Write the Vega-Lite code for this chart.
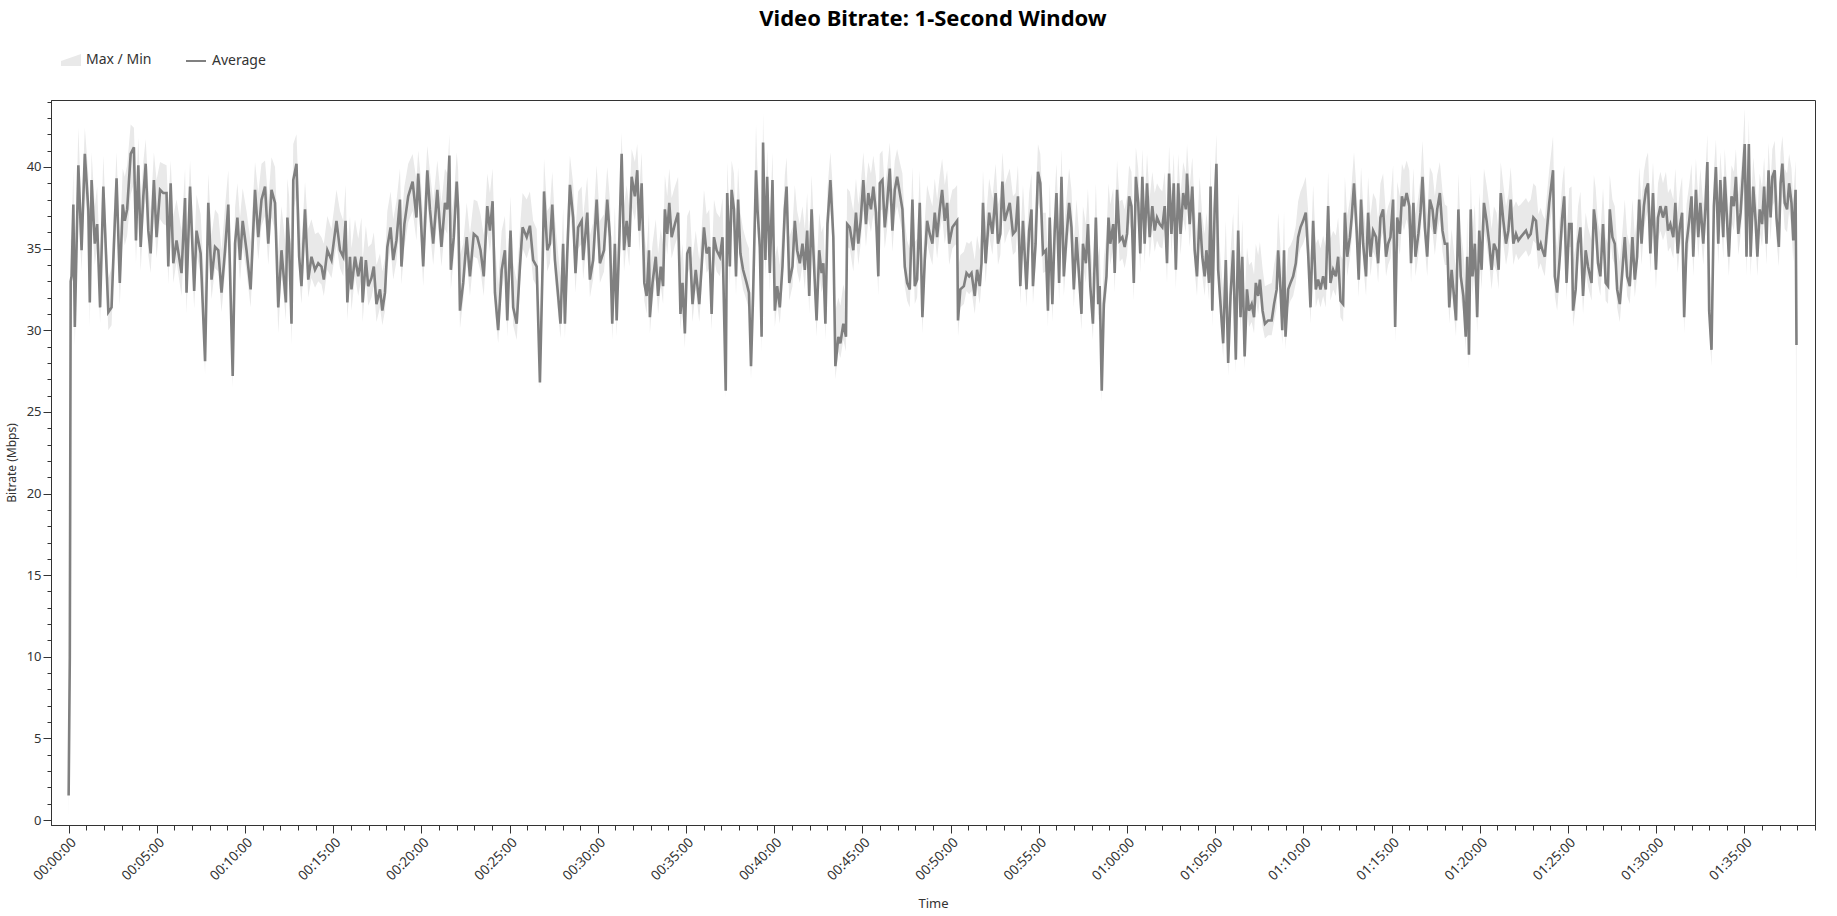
{
  "$schema": "https://vega.github.io/schema/vega-lite/v6.json",
  "width": 1764,
  "height": 725,
  "autosize": {"type": "none"},
  "padding": {"left": 51, "top": 100, "right": 22, "bottom": 91},
  "background": "white",
  "title": {"text": "Video Bitrate: 1-Second Window", "font": "Noto Sans", "fontSize": 22, "fontWeight": "bold", "color": "#000000", "anchor": "middle", "frame": "group", "offset": 19},
  "config": {"view": {"stroke": "#333333", "strokeWidth": 1}, "font": "Noto Sans"},
  "resolve": {"scale": {"color": "independent"}, "legend": {"color": "independent"}},
  "data": {"values": [
{"t":0,"avg":1.5,"max":3.0,"min":0.0},
{"t":4,"avg":10.0,"max":14.5,"min":8.0},
{"t":7,"avg":33.0,"max":35.5,"min":26.0},
{"t":10,"avg":33.3,"max":35.9,"min":31.6},
{"t":16,"avg":37.7,"max":39.8,"min":35.0},
{"t":21,"avg":30.2,"max":33.5,"min":29.0},
{"t":33,"avg":40.1,"max":42.4,"min":37.5},
{"t":44,"avg":34.9,"max":37.2,"min":33.6},
{"t":55,"avg":40.8,"max":42.4,"min":38.6},
{"t":67,"avg":37.4,"max":39.6,"min":35.9},
{"t":72,"avg":31.7,"max":34.2,"min":30.2},
{"t":78,"avg":39.2,"max":40.9,"min":37.0},
{"t":89,"avg":35.3,"max":37.6,"min":34.0},
{"t":97,"avg":36.5,"max":38.8,"min":35.1},
{"t":107,"avg":31.4,"max":33.9,"min":30.4},
{"t":118,"avg":38.8,"max":40.7,"min":36.9},
{"t":135,"avg":31.1,"max":33.2,"min":30.0},
{"t":146,"avg":31.4,"max":33.8,"min":30.3},
{"t":152,"avg":34.3,"max":36.6,"min":33.0},
{"t":163,"avg":39.3,"max":40.9,"min":37.2},
{"t":174,"avg":32.9,"max":35.2,"min":31.5},
{"t":184,"avg":37.7,"max":39.9,"min":36.0},
{"t":191,"avg":36.7,"max":39.4,"min":35.2},
{"t":199,"avg":37.4,"max":40.1,"min":35.8},
{"t":211,"avg":40.8,"max":42.6,"min":38.3},
{"t":222,"avg":41.2,"max":42.4,"min":39.0},
{"t":229,"avg":35.5,"max":38.4,"min":34.1},
{"t":237,"avg":40.1,"max":41.8,"min":38.0},
{"t":245,"avg":35.1,"max":37.9,"min":33.6},
{"t":254,"avg":38.2,"max":40.3,"min":36.6},
{"t":262,"avg":40.2,"max":41.7,"min":38.1},
{"t":271,"avg":36.1,"max":38.8,"min":34.6},
{"t":279,"avg":34.7,"max":37.3,"min":33.5},
{"t":290,"avg":39.2,"max":40.9,"min":37.3},
{"t":299,"avg":35.7,"max":39.2,"min":34.4},
{"t":311,"avg":38.6,"max":40.3,"min":36.8},
{"t":322,"avg":38.4,"max":40.2,"min":36.5},
{"t":333,"avg":38.4,"max":40.1,"min":36.4},
{"t":339,"avg":33.9,"max":37.5,"min":32.8},
{"t":347,"avg":39.0,"max":40.4,"min":36.9},
{"t":356,"avg":34.1,"max":37.0,"min":32.9},
{"t":367,"avg":35.5,"max":38.0,"min":34.2},
{"t":384,"avg":33.5,"max":36.1,"min":32.1},
{"t":396,"avg":38.1,"max":39.9,"min":36.2},
{"t":401,"avg":32.3,"max":35.2,"min":31.0},
{"t":413,"avg":38.8,"max":40.4,"min":36.7},
{"t":427,"avg":32.4,"max":35.0,"min":31.3},
{"t":435,"avg":36.1,"max":38.3,"min":34.7},
{"t":449,"avg":34.7,"max":37.1,"min":33.4},
{"t":464,"avg":28.1,"max":31.9,"min":27.3},
{"t":475,"avg":37.8,"max":39.6,"min":35.8},
{"t":486,"avg":33.1,"max":35.8,"min":31.9},
{"t":498,"avg":35.1,"max":37.4,"min":33.8},
{"t":509,"avg":34.9,"max":37.1,"min":33.6},
{"t":520,"avg":32.3,"max":34.9,"min":31.1},
{"t":532,"avg":34.9,"max":37.6,"min":33.5},
{"t":543,"avg":37.7,"max":39.8,"min":35.9},
{"t":558,"avg":27.2,"max":31.0,"min":26.5},
{"t":566,"avg":35.3,"max":37.5,"min":33.7},
{"t":574,"avg":36.9,"max":39.0,"min":35.2},
{"t":583,"avg":34.3,"max":36.9,"min":33.0},
{"t":592,"avg":36.7,"max":38.7,"min":35.1},
{"t":605,"avg":34.9,"max":37.3,"min":33.6},
{"t":619,"avg":32.5,"max":35.4,"min":31.4},
{"t":634,"avg":38.6,"max":40.3,"min":36.8},
{"t":645,"avg":35.7,"max":38.4,"min":34.3},
{"t":656,"avg":38.0,"max":40.2,"min":36.4},
{"t":668,"avg":38.8,"max":40.4,"min":37.0},
{"t":679,"avg":35.3,"max":37.9,"min":34.0},
{"t":690,"avg":38.6,"max":40.6,"min":36.9},
{"t":702,"avg":37.8,"max":40.0,"min":36.1},
{"t":713,"avg":31.4,"max":34.8,"min":29.8},
{"t":724,"avg":34.9,"max":37.6,"min":33.5},
{"t":739,"avg":31.7,"max":35.0,"min":30.6},
{"t":744,"avg":36.9,"max":39.3,"min":35.3},
{"t":750,"avg":35.3,"max":38.2,"min":34.0},
{"t":758,"avg":30.4,"max":33.8,"min":29.1},
{"t":764,"avg":39.2,"max":41.4,"min":37.3},
{"t":775,"avg":40.2,"max":42.0,"min":38.2},
{"t":784,"avg":34.5,"max":37.6,"min":33.3},
{"t":792,"avg":32.7,"max":35.3,"min":31.6},
{"t":804,"avg":37.4,"max":39.1,"min":35.7},
{"t":815,"avg":33.1,"max":36.2,"min":32.0},
{"t":826,"avg":34.5,"max":36.8,"min":33.2},
{"t":838,"avg":33.7,"max":35.9,"min":32.6},
{"t":849,"avg":34.1,"max":36.0,"min":33.0},
{"t":860,"avg":33.9,"max":35.7,"min":32.8},
{"t":868,"avg":33.1,"max":35.3,"min":32.1},
{"t":880,"avg":34.9,"max":37.0,"min":33.7},
{"t":894,"avg":34.3,"max":36.2,"min":33.2},
{"t":911,"avg":36.7,"max":38.6,"min":35.2},
{"t":923,"avg":34.9,"max":37.3,"min":33.8},
{"t":934,"avg":34.5,"max":36.7,"min":33.3},
{"t":942,"avg":36.7,"max":38.9,"min":35.3},
{"t":948,"avg":31.7,"max":34.8,"min":30.6},
{"t":957,"avg":34.5,"max":37.0,"min":33.2},
{"t":962,"avg":32.5,"max":35.0,"min":31.2},
{"t":974,"avg":34.5,"max":36.8,"min":33.3},
{"t":985,"avg":33.3,"max":35.6,"min":32.1},
{"t":996,"avg":34.5,"max":36.9,"min":33.2},
{"t":1000,"avg":31.7,"max":34.3,"min":30.5},
{"t":1011,"avg":34.3,"max":36.4,"min":33.1},
{"t":1019,"avg":32.7,"max":35.1,"min":31.5},
{"t":1030,"avg":33.2,"max":35.3,"min":32.0},
{"t":1038,"avg":33.9,"max":36.0,"min":32.7},
{"t":1047,"avg":31.6,"max":34.0,"min":30.5},
{"t":1059,"avg":32.5,"max":34.7,"min":31.4},
{"t":1067,"avg":31.2,"max":33.6,"min":30.3},
{"t":1076,"avg":32.3,"max":34.4,"min":31.2},
{"t":1084,"avg":35.1,"max":37.3,"min":33.8},
{"t":1095,"avg":36.3,"max":38.5,"min":35.0},
{"t":1104,"avg":34.3,"max":36.8,"min":33.1},
{"t":1115,"avg":35.5,"max":37.9,"min":34.2},
{"t":1127,"avg":38.0,"max":39.9,"min":36.4},
{"t":1132,"avg":33.9,"max":36.7,"min":32.8},
{"t":1142,"avg":36.5,"max":38.8,"min":35.1},
{"t":1155,"avg":38.2,"max":40.2,"min":36.6},
{"t":1170,"avg":39.1,"max":40.8,"min":37.3},
{"t":1183,"avg":36.9,"max":39.2,"min":35.5},
{"t":1189,"avg":39.6,"max":41.0,"min":37.8},
{"t":1197,"avg":37.2,"max":39.5,"min":35.8},
{"t":1206,"avg":33.9,"max":36.9,"min":32.7},
{"t":1220,"avg":39.8,"max":41.3,"min":37.9},
{"t":1229,"avg":37.4,"max":39.7,"min":36.0},
{"t":1240,"avg":35.3,"max":37.9,"min":34.0},
{"t":1254,"avg":38.6,"max":40.4,"min":36.9},
{"t":1268,"avg":35.1,"max":37.8,"min":33.9},
{"t":1280,"avg":37.8,"max":39.9,"min":36.2},
{"t":1288,"avg":37.4,"max":39.6,"min":35.9},
{"t":1295,"avg":40.7,"max":42.0,"min":38.6},
{"t":1300,"avg":33.7,"max":36.9,"min":32.5},
{"t":1310,"avg":35.7,"max":38.1,"min":34.4},
{"t":1320,"avg":39.1,"max":40.9,"min":37.3},
{"t":1325,"avg":37.4,"max":39.8,"min":35.8},
{"t":1331,"avg":31.2,"max":34.6,"min":30.1},
{"t":1342,"avg":32.9,"max":35.3,"min":31.8},
{"t":1354,"avg":35.7,"max":37.8,"min":34.3},
{"t":1365,"avg":33.3,"max":35.9,"min":32.1},
{"t":1378,"avg":35.9,"max":38.0,"min":34.5},
{"t":1390,"avg":35.7,"max":37.9,"min":34.4},
{"t":1401,"avg":34.9,"max":37.1,"min":33.6},
{"t":1412,"avg":33.3,"max":35.8,"min":32.1},
{"t":1424,"avg":37.6,"max":39.6,"min":36.0},
{"t":1433,"avg":36.1,"max":38.4,"min":34.8},
{"t":1442,"avg":37.9,"max":39.9,"min":36.3},
{"t":1450,"avg":32.3,"max":35.2,"min":31.2},
{"t":1461,"avg":30.0,"max":32.8,"min":29.2},
{"t":1473,"avg":33.7,"max":36.1,"min":32.4},
{"t":1484,"avg":34.9,"max":37.0,"min":33.6},
{"t":1492,"avg":30.6,"max":33.5,"min":29.6},
{"t":1503,"avg":36.1,"max":38.2,"min":34.7},
{"t":1512,"avg":31.4,"max":34.1,"min":30.3},
{"t":1524,"avg":30.4,"max":33.0,"min":29.4},
{"t":1535,"avg":33.9,"max":36.2,"min":32.7},
{"t":1544,"avg":36.3,"max":38.4,"min":35.0},
{"t":1558,"avg":35.7,"max":38.0,"min":34.4},
{"t":1569,"avg":36.4,"max":38.5,"min":35.1},
{"t":1580,"avg":34.3,"max":36.7,"min":33.1},
{"t":1592,"avg":33.9,"max":36.2,"min":32.7},
{"t":1603,"avg":26.8,"max":30.5,"min":26.4},
{"t":1612,"avg":33.9,"max":36.4,"min":32.7},
{"t":1617,"avg":38.5,"max":40.5,"min":36.8},
{"t":1628,"avg":34.9,"max":37.3,"min":33.6},
{"t":1637,"avg":35.3,"max":37.6,"min":34.1},
{"t":1645,"avg":37.7,"max":39.7,"min":36.1},
{"t":1654,"avg":34.3,"max":36.8,"min":33.1},
{"t":1665,"avg":32.1,"max":34.7,"min":31.0},
{"t":1673,"avg":30.4,"max":33.2,"min":29.5},
{"t":1682,"avg":35.3,"max":37.5,"min":34.0},
{"t":1688,"avg":30.4,"max":33.4,"min":29.5},
{"t":1696,"avg":34.7,"max":37.0,"min":33.4},
{"t":1705,"avg":38.9,"max":40.7,"min":37.2},
{"t":1716,"avg":36.9,"max":39.0,"min":35.5},
{"t":1724,"avg":33.5,"max":36.1,"min":32.3},
{"t":1733,"avg":36.3,"max":38.5,"min":35.0},
{"t":1745,"avg":36.7,"max":38.8,"min":35.3},
{"t":1750,"avg":34.3,"max":36.9,"min":33.1},
{"t":1764,"avg":37.2,"max":39.4,"min":35.8},
{"t":1773,"avg":33.1,"max":35.8,"min":32.0},
{"t":1784,"avg":34.3,"max":36.6,"min":33.1},
{"t":1796,"avg":38.0,"max":40.1,"min":36.4},
{"t":1807,"avg":34.1,"max":36.7,"min":32.9},
{"t":1821,"avg":34.9,"max":37.1,"min":33.6},
{"t":1832,"avg":38.0,"max":40.0,"min":36.4},
{"t":1841,"avg":35.7,"max":38.0,"min":34.4},
{"t":1849,"avg":30.4,"max":33.6,"min":29.4},
{"t":1858,"avg":35.3,"max":37.6,"min":34.0},
{"t":1864,"avg":30.6,"max":33.7,"min":29.6},
{"t":1873,"avg":35.5,"max":37.8,"min":34.2},
{"t":1881,"avg":40.8,"max":42.1,"min":38.7},
{"t":1889,"avg":34.9,"max":37.6,"min":33.6},
{"t":1898,"avg":36.7,"max":38.9,"min":35.3},
{"t":1907,"avg":35.1,"max":37.5,"min":33.9},
{"t":1915,"avg":39.4,"max":41.1,"min":37.6},
{"t":1926,"avg":38.2,"max":40.3,"min":36.7},
{"t":1934,"avg":39.8,"max":41.4,"min":37.9},
{"t":1941,"avg":36.1,"max":38.6,"min":34.8},
{"t":1949,"avg":39.0,"max":40.9,"min":37.3},
{"t":1958,"avg":32.9,"max":35.9,"min":31.8},
{"t":1966,"avg":32.1,"max":34.8,"min":31.0},
{"t":1974,"avg":34.9,"max":37.2,"min":33.6},
{"t":1977,"avg":30.8,"max":33.6,"min":29.8},
{"t":1986,"avg":32.9,"max":35.3,"min":31.7},
{"t":1997,"avg":34.5,"max":36.8,"min":33.2},
{"t":2005,"avg":32.1,"max":34.7,"min":31.0},
{"t":2014,"avg":33.9,"max":36.2,"min":32.7},
{"t":2022,"avg":32.7,"max":35.2,"min":31.6},
{"t":2028,"avg":37.4,"max":39.5,"min":35.9},
{"t":2036,"avg":35.9,"max":38.2,"min":34.6},
{"t":2043,"avg":37.8,"max":39.9,"min":36.2},
{"t":2051,"avg":35.7,"max":38.1,"min":34.4},
{"t":2062,"avg":36.5,"max":38.8,"min":35.2},
{"t":2073,"avg":37.2,"max":39.4,"min":35.8},
{"t":2081,"avg":31.0,"max":34.0,"min":30.0},
{"t":2088,"avg":32.9,"max":35.3,"min":31.7},
{"t":2096,"avg":29.8,"max":32.7,"min":28.9},
{"t":2104,"avg":34.7,"max":37.0,"min":33.4},
{"t":2113,"avg":35.1,"max":37.4,"min":33.8},
{"t":2122,"avg":31.6,"max":34.4,"min":30.5},
{"t":2133,"avg":33.7,"max":36.1,"min":32.5},
{"t":2145,"avg":31.6,"max":34.3,"min":30.5},
{"t":2153,"avg":33.9,"max":36.2,"min":32.7},
{"t":2161,"avg":36.3,"max":38.6,"min":35.0},
{"t":2170,"avg":34.7,"max":37.1,"min":33.5},
{"t":2179,"avg":35.1,"max":37.4,"min":33.8},
{"t":2187,"avg":31.0,"max":33.9,"min":30.0},
{"t":2195,"avg":35.7,"max":38.0,"min":34.4},
{"t":2204,"avg":34.9,"max":37.2,"min":33.6},
{"t":2215,"avg":34.5,"max":36.9,"min":33.3},
{"t":2224,"avg":35.7,"max":38.1,"min":34.4},
{"t":2235,"avg":26.3,"max":30.2,"min":25.8},
{"t":2240,"avg":38.4,"max":40.3,"min":36.8},
{"t":2249,"avg":33.9,"max":36.5,"min":32.7},
{"t":2255,"avg":38.6,"max":40.4,"min":36.9},
{"t":2263,"avg":37.4,"max":39.6,"min":36.0},
{"t":2270,"avg":33.3,"max":36.1,"min":32.1},
{"t":2277,"avg":38.0,"max":40.0,"min":36.4},
{"t":2285,"avg":34.7,"max":37.2,"min":33.5},
{"t":2294,"avg":33.7,"max":36.2,"min":32.5},
{"t":2306,"avg":32.9,"max":35.4,"min":31.8},
{"t":2314,"avg":32.3,"max":35.0,"min":31.2},
{"t":2321,"avg":27.8,"max":31.2,"min":27.0},
{"t":2328,"avg":32.1,"max":34.8,"min":31.0},
{"t":2338,"avg":39.8,"max":42.6,"min":37.9},
{"t":2343,"avg":37.4,"max":39.8,"min":36.0},
{"t":2351,"avg":35.1,"max":37.6,"min":33.9},
{"t":2357,"avg":29.6,"max":33.0,"min":28.6},
{"t":2362,"avg":41.5,"max":43.3,"min":39.4},
{"t":2370,"avg":34.3,"max":37.2,"min":33.1},
{"t":2376,"avg":39.4,"max":41.1,"min":37.6},
{"t":2385,"avg":33.5,"max":36.2,"min":32.3},
{"t":2394,"avg":39.2,"max":40.9,"min":37.4},
{"t":2402,"avg":31.2,"max":34.3,"min":30.2},
{"t":2410,"avg":32.7,"max":35.2,"min":31.6},
{"t":2419,"avg":31.4,"max":34.0,"min":30.4},
{"t":2428,"avg":33.9,"max":36.3,"min":32.7},
{"t":2436,"avg":37.4,"max":39.5,"min":35.9},
{"t":2442,"avg":38.8,"max":40.6,"min":37.1},
{"t":2451,"avg":32.9,"max":35.7,"min":31.8},
{"t":2462,"avg":33.9,"max":36.3,"min":32.7},
{"t":2470,"avg":36.7,"max":38.9,"min":35.3},
{"t":2478,"avg":34.9,"max":37.3,"min":33.6},
{"t":2487,"avg":34.1,"max":36.5,"min":32.9},
{"t":2496,"avg":35.3,"max":37.6,"min":34.0},
{"t":2504,"avg":33.7,"max":36.2,"min":32.5},
{"t":2512,"avg":36.1,"max":38.4,"min":34.8},
{"t":2519,"avg":32.1,"max":34.9,"min":31.0},
{"t":2527,"avg":37.4,"max":39.5,"min":35.9},
{"t":2535,"avg":34.1,"max":36.6,"min":32.9},
{"t":2544,"avg":30.6,"max":33.6,"min":29.6},
{"t":2553,"avg":34.9,"max":37.2,"min":33.6},
{"t":2561,"avg":33.5,"max":36.0,"min":32.3},
{"t":2567,"avg":34.1,"max":36.4,"min":32.9},
{"t":2574,"avg":30.4,"max":33.5,"min":29.4},
{"t":2581,"avg":36.5,"max":38.7,"min":35.1},
{"t":2591,"avg":39.2,"max":40.9,"min":37.4},
{"t":2601,"avg":35.7,"max":38.3,"min":34.4},
{"t":2608,"avg":27.8,"max":31.2,"min":27.0},
{"t":2618,"avg":29.6,"max":32.0,"min":28.7},
{"t":2625,"avg":29.2,"max":31.5,"min":28.3},
{"t":2635,"avg":30.4,"max":32.8,"min":29.4},
{"t":2644,"avg":29.6,"max":32.1,"min":28.7},
{"t":2648,"avg":36.5,"max":38.7,"min":35.1},
{"t":2657,"avg":36.3,"max":38.5,"min":35.0},
{"t":2669,"avg":34.9,"max":37.3,"min":33.6},
{"t":2678,"avg":37.2,"max":39.3,"min":35.8},
{"t":2686,"avg":35.3,"max":37.7,"min":34.0},
{"t":2694,"avg":36.7,"max":38.9,"min":35.3},
{"t":2703,"avg":39.2,"max":40.9,"min":37.4},
{"t":2712,"avg":36.5,"max":38.8,"min":35.1},
{"t":2720,"avg":38.4,"max":40.3,"min":36.8},
{"t":2729,"avg":37.4,"max":39.6,"min":36.0},
{"t":2737,"avg":38.8,"max":40.7,"min":37.1},
{"t":2746,"avg":37.2,"max":39.4,"min":35.8},
{"t":2754,"avg":33.3,"max":36.4,"min":32.1},
{"t":2759,"avg":39.0,"max":40.8,"min":37.3},
{"t":2768,"avg":39.2,"max":41.0,"min":37.4},
{"t":2776,"avg":36.3,"max":38.7,"min":35.0},
{"t":2784,"avg":37.8,"max":39.9,"min":36.2},
{"t":2793,"avg":39.9,"max":41.5,"min":38.0},
{"t":2802,"avg":36.1,"max":38.5,"min":34.8},
{"t":2810,"avg":38.6,"max":40.4,"min":36.9},
{"t":2818,"avg":39.4,"max":41.1,"min":37.6},
{"t":2827,"avg":38.4,"max":40.3,"min":36.8},
{"t":2836,"avg":37.4,"max":39.6,"min":36.0},
{"t":2844,"avg":33.9,"max":36.7,"min":32.7},
{"t":2852,"avg":32.9,"max":35.5,"min":31.8},
{"t":2861,"avg":32.5,"max":35.0,"min":31.4},
{"t":2870,"avg":38.0,"max":40.0,"min":36.4},
{"t":2878,"avg":32.7,"max":35.4,"min":31.6},
{"t":2886,"avg":33.1,"max":35.6,"min":32.0},
{"t":2895,"avg":37.8,"max":39.8,"min":36.2},
{"t":2904,"avg":30.8,"max":33.9,"min":29.8},
{"t":2912,"avg":34.3,"max":36.7,"min":33.1},
{"t":2920,"avg":36.7,"max":38.9,"min":35.3},
{"t":2929,"avg":35.9,"max":38.2,"min":34.6},
{"t":2938,"avg":35.3,"max":37.6,"min":34.0},
{"t":2946,"avg":37.2,"max":39.3,"min":35.8},
{"t":2954,"avg":35.7,"max":38.0,"min":34.4},
{"t":2963,"avg":37.4,"max":39.5,"min":36.0},
{"t":2971,"avg":38.6,"max":40.5,"min":36.9},
{"t":2980,"avg":36.7,"max":38.9,"min":35.3},
{"t":2988,"avg":37.8,"max":39.8,"min":36.2},
{"t":2995,"avg":35.3,"max":37.7,"min":34.0},
{"t":3006,"avg":36.3,"max":38.6,"min":35.0},
{"t":3014,"avg":36.5,"max":38.7,"min":35.2},
{"t":3022,"avg":36.7,"max":38.9,"min":35.3},
{"t":3025,"avg":30.6,"max":33.8,"min":29.6},
{"t":3033,"avg":32.5,"max":34.6,"min":31.4},
{"t":3045,"avg":32.7,"max":34.8,"min":31.6},
{"t":3054,"avg":33.5,"max":35.4,"min":32.4},
{"t":3063,"avg":33.3,"max":35.3,"min":32.2},
{"t":3071,"avg":33.5,"max":35.5,"min":32.4},
{"t":3082,"avg":32.1,"max":34.3,"min":31.0},
{"t":3090,"avg":33.7,"max":35.8,"min":32.6},
{"t":3099,"avg":32.7,"max":34.9,"min":31.6},
{"t":3105,"avg":34.1,"max":36.4,"min":32.9},
{"t":3110,"avg":37.8,"max":39.8,"min":36.2},
{"t":3119,"avg":34.1,"max":36.6,"min":32.9},
{"t":3131,"avg":37.2,"max":39.3,"min":35.8},
{"t":3142,"avg":35.9,"max":38.1,"min":34.6},
{"t":3153,"avg":38.4,"max":40.2,"min":36.8},
{"t":3161,"avg":35.3,"max":37.7,"min":34.0},
{"t":3169,"avg":35.9,"max":38.2,"min":34.6},
{"t":3176,"avg":39.1,"max":40.9,"min":37.3},
{"t":3184,"avg":36.7,"max":38.9,"min":35.3},
{"t":3192,"avg":37.2,"max":39.4,"min":35.8},
{"t":3201,"avg":37.8,"max":39.9,"min":36.2},
{"t":3212,"avg":35.9,"max":38.2,"min":34.6},
{"t":3221,"avg":36.1,"max":38.4,"min":34.8},
{"t":3229,"avg":38.2,"max":40.1,"min":36.6},
{"t":3237,"avg":32.7,"max":35.6,"min":31.6},
{"t":3246,"avg":36.7,"max":38.9,"min":35.3},
{"t":3258,"avg":32.5,"max":35.3,"min":31.4},
{"t":3267,"avg":36.1,"max":38.4,"min":34.8},
{"t":3275,"avg":37.4,"max":39.6,"min":36.0},
{"t":3280,"avg":32.7,"max":35.5,"min":31.6},
{"t":3289,"avg":35.3,"max":37.7,"min":34.0},
{"t":3297,"avg":39.7,"max":41.4,"min":37.8},
{"t":3305,"avg":39.0,"max":40.8,"min":37.3},
{"t":3314,"avg":34.7,"max":37.2,"min":33.5},
{"t":3324,"avg":34.9,"max":37.2,"min":33.6},
{"t":3331,"avg":31.2,"max":34.2,"min":30.2},
{"t":3337,"avg":36.9,"max":39.0,"min":35.5},
{"t":3346,"avg":31.6,"max":34.5,"min":30.5},
{"t":3354,"avg":36.1,"max":38.4,"min":34.8},
{"t":3360,"avg":38.4,"max":40.2,"min":36.8},
{"t":3369,"avg":32.9,"max":35.8,"min":31.8},
{"t":3377,"avg":39.4,"max":41.1,"min":37.6},
{"t":3385,"avg":33.3,"max":36.2,"min":32.1},
{"t":3394,"avg":35.7,"max":38.0,"min":34.4},
{"t":3403,"avg":37.8,"max":39.9,"min":36.2},
{"t":3411,"avg":36.3,"max":38.6,"min":35.0},
{"t":3419,"avg":32.5,"max":35.3,"min":31.4},
{"t":3428,"avg":35.7,"max":38.0,"min":34.4},
{"t":3437,"avg":33.3,"max":35.9,"min":32.1},
{"t":3445,"avg":31.0,"max":33.9,"min":30.0},
{"t":3450,"avg":35.3,"max":37.6,"min":34.0},
{"t":3460,"avg":34.1,"max":36.5,"min":32.9},
{"t":3467,"avg":36.5,"max":38.7,"min":35.1},
{"t":3475,"avg":32.7,"max":35.5,"min":31.6},
{"t":3484,"avg":30.4,"max":33.4,"min":29.4},
{"t":3494,"avg":36.9,"max":39.0,"min":35.5},
{"t":3502,"avg":31.6,"max":34.5,"min":30.5},
{"t":3507,"avg":32.7,"max":35.2,"min":31.6},
{"t":3514,"avg":26.3,"max":30.4,"min":25.6},
{"t":3521,"avg":31.6,"max":34.4,"min":30.5},
{"t":3530,"avg":33.3,"max":35.9,"min":32.1},
{"t":3537,"avg":36.9,"max":39.0,"min":35.5},
{"t":3543,"avg":35.3,"max":37.7,"min":34.0},
{"t":3553,"avg":36.5,"max":38.7,"min":35.1},
{"t":3558,"avg":33.5,"max":36.2,"min":32.3},
{"t":3566,"avg":38.6,"max":40.4,"min":36.9},
{"t":3575,"avg":35.5,"max":37.9,"min":34.2},
{"t":3584,"avg":35.7,"max":38.0,"min":34.4},
{"t":3592,"avg":35.1,"max":37.4,"min":33.8},
{"t":3600,"avg":35.9,"max":38.2,"min":34.6},
{"t":3607,"avg":38.2,"max":40.1,"min":36.6},
{"t":3615,"avg":37.6,"max":39.7,"min":36.1},
{"t":3623,"avg":32.9,"max":35.8,"min":31.8},
{"t":3630,"avg":39.4,"max":41.2,"min":37.6},
{"t":3638,"avg":37.8,"max":39.9,"min":36.2},
{"t":3645,"avg":34.7,"max":37.2,"min":33.5},
{"t":3652,"avg":39.4,"max":41.1,"min":37.6},
{"t":3660,"avg":35.3,"max":37.8,"min":34.0},
{"t":3668,"avg":39.0,"max":40.8,"min":37.3},
{"t":3677,"avg":35.7,"max":38.1,"min":34.4},
{"t":3686,"avg":37.6,"max":39.7,"min":36.1},
{"t":3694,"avg":36.1,"max":38.4,"min":34.8},
{"t":3702,"avg":36.9,"max":39.0,"min":35.5},
{"t":3711,"avg":36.5,"max":38.7,"min":35.1},
{"t":3720,"avg":36.3,"max":38.5,"min":35.0},
{"t":3728,"avg":37.6,"max":39.7,"min":36.1},
{"t":3736,"avg":34.1,"max":36.8,"min":32.9},
{"t":3743,"avg":39.6,"max":41.3,"min":37.8},
{"t":3751,"avg":35.9,"max":38.3,"min":34.6},
{"t":3759,"avg":39.0,"max":40.8,"min":37.3},
{"t":3766,"avg":33.7,"max":36.6,"min":32.5},
{"t":3774,"avg":39.0,"max":40.8,"min":37.3},
{"t":3782,"avg":35.9,"max":38.3,"min":34.6},
{"t":3791,"avg":38.4,"max":40.3,"min":36.8},
{"t":3800,"avg":37.4,"max":39.6,"min":36.0},
{"t":3804,"avg":39.6,"max":41.4,"min":37.8},
{"t":3813,"avg":36.5,"max":38.8,"min":35.1},
{"t":3822,"avg":38.8,"max":40.6,"min":37.1},
{"t":3830,"avg":34.9,"max":37.5,"min":33.6},
{"t":3838,"avg":33.3,"max":36.0,"min":32.1},
{"t":3847,"avg":37.2,"max":39.4,"min":35.8},
{"t":3856,"avg":34.5,"max":37.0,"min":33.3},
{"t":3864,"avg":33.3,"max":35.9,"min":32.1},
{"t":3870,"avg":34.9,"max":37.2,"min":33.6},
{"t":3879,"avg":32.9,"max":35.6,"min":31.8},
{"t":3884,"avg":38.8,"max":40.6,"min":37.1},
{"t":3890,"avg":31.2,"max":34.3,"min":30.2},
{"t":3898,"avg":37.4,"max":39.6,"min":36.0},
{"t":3904,"avg":40.2,"max":42.0,"min":38.2},
{"t":3910,"avg":33.7,"max":36.6,"min":32.5},
{"t":3918,"avg":31.6,"max":34.4,"min":30.5},
{"t":3927,"avg":29.2,"max":32.4,"min":28.3},
{"t":3936,"avg":34.3,"max":36.7,"min":33.1},
{"t":3944,"avg":28.0,"max":31.3,"min":27.2},
{"t":3952,"avg":32.1,"max":34.8,"min":31.0},
{"t":3961,"avg":34.9,"max":37.2,"min":33.6},
{"t":3970,"avg":28.2,"max":31.6,"min":27.4},
{"t":3978,"avg":36.1,"max":38.4,"min":34.8},
{"t":3986,"avg":30.8,"max":33.8,"min":29.8},
{"t":3992,"avg":34.5,"max":36.8,"min":33.3},
{"t":4000,"avg":28.4,"max":31.7,"min":27.6},
{"t":4008,"avg":32.5,"max":35.1,"min":31.4},
{"t":4015,"avg":31.2,"max":34.0,"min":30.2},
{"t":4024,"avg":31.6,"max":34.2,"min":30.5},
{"t":4032,"avg":30.8,"max":33.4,"min":29.8},
{"t":4038,"avg":32.9,"max":35.3,"min":31.8},
{"t":4046,"avg":32.1,"max":34.6,"min":31.0},
{"t":4052,"avg":33.1,"max":35.4,"min":32.0},
{"t":4061,"avg":31.2,"max":33.8,"min":30.2},
{"t":4069,"avg":30.4,"max":32.7,"min":29.5},
{"t":4080,"avg":30.6,"max":32.8,"min":29.7},
{"t":4092,"avg":30.6,"max":32.9,"min":29.7},
{"t":4100,"avg":31.6,"max":34.0,"min":30.5},
{"t":4109,"avg":32.5,"max":34.9,"min":31.4},
{"t":4114,"avg":34.9,"max":37.2,"min":33.6},
{"t":4122,"avg":32.5,"max":35.0,"min":31.4},
{"t":4128,"avg":30.0,"max":33.0,"min":29.1},
{"t":4134,"avg":34.9,"max":37.3,"min":33.6},
{"t":4139,"avg":29.6,"max":32.7,"min":28.8},
{"t":4148,"avg":32.5,"max":35.0,"min":31.4},
{"t":4156,"avg":32.9,"max":35.2,"min":31.8},
{"t":4165,"avg":33.3,"max":35.6,"min":32.1},
{"t":4174,"avg":34.1,"max":36.4,"min":32.9},
{"t":4182,"avg":35.7,"max":37.9,"min":34.4},
{"t":4190,"avg":36.3,"max":38.5,"min":35.0},
{"t":4199,"avg":36.7,"max":38.9,"min":35.3},
{"t":4208,"avg":37.2,"max":39.4,"min":35.8},
{"t":4216,"avg":34.7,"max":37.3,"min":33.5},
{"t":4224,"avg":31.4,"max":34.4,"min":30.4},
{"t":4233,"avg":36.7,"max":38.9,"min":35.3},
{"t":4242,"avg":32.5,"max":35.3,"min":31.4},
{"t":4250,"avg":33.1,"max":35.6,"min":32.0},
{"t":4258,"avg":32.5,"max":35.0,"min":31.4},
{"t":4267,"avg":33.3,"max":35.8,"min":32.1},
{"t":4276,"avg":32.5,"max":35.1,"min":31.4},
{"t":4284,"avg":37.6,"max":39.7,"min":36.1},
{"t":4292,"avg":32.9,"max":35.6,"min":31.8},
{"t":4301,"avg":33.7,"max":36.1,"min":32.5},
{"t":4310,"avg":33.3,"max":35.8,"min":32.1},
{"t":4318,"avg":34.5,"max":36.9,"min":33.3},
{"t":4326,"avg":31.8,"max":34.6,"min":30.8},
{"t":4335,"avg":31.6,"max":34.3,"min":30.5},
{"t":4341,"avg":37.2,"max":39.4,"min":35.8},
{"t":4349,"avg":34.5,"max":37.0,"min":33.3},
{"t":4358,"avg":35.7,"max":38.0,"min":34.4},
{"t":4364,"avg":36.9,"max":39.0,"min":35.5},
{"t":4372,"avg":39.0,"max":40.9,"min":37.3},
{"t":4381,"avg":36.1,"max":38.5,"min":34.8},
{"t":4388,"avg":33.1,"max":36.0,"min":32.0},
{"t":4396,"avg":38.0,"max":40.0,"min":36.4},
{"t":4403,"avg":35.3,"max":37.7,"min":34.0},
{"t":4413,"avg":33.3,"max":36.0,"min":32.1},
{"t":4420,"avg":37.2,"max":39.4,"min":35.8},
{"t":4428,"avg":34.5,"max":37.0,"min":33.3},
{"t":4437,"avg":36.1,"max":38.4,"min":34.8},
{"t":4447,"avg":35.7,"max":38.0,"min":34.4},
{"t":4454,"avg":34.1,"max":36.6,"min":32.9},
{"t":4462,"avg":36.9,"max":39.0,"min":35.5},
{"t":4471,"avg":37.4,"max":39.6,"min":36.0},
{"t":4481,"avg":34.5,"max":37.0,"min":33.3},
{"t":4488,"avg":35.3,"max":37.6,"min":34.0},
{"t":4496,"avg":35.7,"max":38.0,"min":34.4},
{"t":4505,"avg":38.0,"max":40.1,"min":36.4},
{"t":4512,"avg":30.2,"max":33.6,"min":29.3},
{"t":4519,"avg":36.9,"max":39.1,"min":35.5},
{"t":4528,"avg":35.9,"max":38.2,"min":34.6},
{"t":4535,"avg":38.2,"max":40.2,"min":36.6},
{"t":4542,"avg":37.6,"max":39.8,"min":36.1},
{"t":4551,"avg":38.4,"max":40.4,"min":36.8},
{"t":4560,"avg":37.6,"max":39.8,"min":36.1},
{"t":4566,"avg":34.1,"max":36.8,"min":32.9},
{"t":4574,"avg":37.8,"max":39.9,"min":36.2},
{"t":4581,"avg":34.5,"max":37.1,"min":33.3},
{"t":4591,"avg":35.9,"max":38.2,"min":34.6},
{"t":4598,"avg":37.2,"max":39.3,"min":35.8},
{"t":4605,"avg":39.4,"max":41.6,"min":37.6},
{"t":4613,"avg":36.3,"max":38.7,"min":35.0},
{"t":4621,"avg":34.5,"max":37.0,"min":33.3},
{"t":4630,"avg":38.0,"max":40.0,"min":36.4},
{"t":4639,"avg":37.4,"max":39.6,"min":36.0},
{"t":4647,"avg":35.9,"max":38.2,"min":34.6},
{"t":4655,"avg":37.4,"max":39.5,"min":36.0},
{"t":4664,"avg":38.4,"max":40.3,"min":36.8},
{"t":4673,"avg":36.1,"max":38.5,"min":34.8},
{"t":4681,"avg":35.3,"max":37.7,"min":34.0},
{"t":4689,"avg":35.3,"max":37.6,"min":34.0},
{"t":4696,"avg":31.4,"max":34.4,"min":30.4},
{"t":4704,"avg":33.7,"max":36.2,"min":32.5},
{"t":4712,"avg":32.1,"max":34.8,"min":31.0},
{"t":4719,"avg":30.6,"max":33.6,"min":29.6},
{"t":4727,"avg":37.4,"max":39.6,"min":36.0},
{"t":4735,"avg":33.3,"max":36.1,"min":32.1},
{"t":4744,"avg":32.1,"max":34.8,"min":31.0},
{"t":4752,"avg":29.6,"max":32.8,"min":28.8},
{"t":4757,"avg":34.5,"max":37.0,"min":33.3},
{"t":4763,"avg":28.5,"max":31.8,"min":27.6},
{"t":4769,"avg":37.4,"max":39.6,"min":36.0},
{"t":4775,"avg":33.3,"max":36.0,"min":32.1},
{"t":4783,"avg":35.3,"max":37.7,"min":34.0},
{"t":4791,"avg":30.8,"max":33.8,"min":29.8},
{"t":4798,"avg":36.1,"max":38.4,"min":34.8},
{"t":4806,"avg":33.7,"max":36.3,"min":32.5},
{"t":4814,"avg":37.8,"max":39.9,"min":36.2},
{"t":4823,"avg":36.7,"max":38.9,"min":35.3},
{"t":4832,"avg":35.3,"max":37.7,"min":34.0},
{"t":4840,"avg":33.7,"max":36.2,"min":32.5},
{"t":4848,"avg":35.3,"max":37.6,"min":34.0},
{"t":4857,"avg":34.9,"max":37.2,"min":33.6},
{"t":4864,"avg":33.7,"max":36.1,"min":32.5},
{"t":4871,"avg":38.4,"max":40.3,"min":36.8},
{"t":4880,"avg":36.7,"max":38.9,"min":35.3},
{"t":4889,"avg":35.3,"max":37.6,"min":34.0},
{"t":4897,"avg":36.1,"max":38.3,"min":34.8},
{"t":4905,"avg":38.0,"max":40.0,"min":36.4},
{"t":4914,"avg":35.3,"max":37.5,"min":34.0},
{"t":4923,"avg":35.9,"max":37.9,"min":34.7},
{"t":4931,"avg":35.5,"max":37.6,"min":34.3},
{"t":4939,"avg":35.7,"max":37.7,"min":34.5},
{"t":4948,"avg":35.9,"max":37.9,"min":34.7},
{"t":4957,"avg":36.1,"max":38.1,"min":34.9},
{"t":4965,"avg":35.7,"max":37.8,"min":34.5},
{"t":4973,"avg":35.9,"max":38.0,"min":34.7},
{"t":4982,"avg":36.9,"max":39.0,"min":35.5},
{"t":4991,"avg":36.7,"max":38.8,"min":35.3},
{"t":4999,"avg":34.9,"max":37.1,"min":33.7},
{"t":5007,"avg":35.3,"max":37.5,"min":34.1},
{"t":5013,"avg":34.9,"max":37.1,"min":33.7},
{"t":5021,"avg":34.5,"max":36.8,"min":33.3},
{"t":5029,"avg":36.3,"max":38.5,"min":35.0},
{"t":5036,"avg":37.8,"max":39.8,"min":36.2},
{"t":5049,"avg":39.8,"max":41.9,"min":37.9},
{"t":5055,"avg":33.3,"max":36.4,"min":32.1},
{"t":5063,"avg":32.3,"max":35.0,"min":31.2},
{"t":5072,"avg":34.5,"max":36.9,"min":33.3},
{"t":5080,"avg":36.9,"max":39.0,"min":35.5},
{"t":5087,"avg":38.2,"max":40.1,"min":36.6},
{"t":5095,"avg":32.9,"max":35.7,"min":31.8},
{"t":5104,"avg":36.5,"max":38.7,"min":35.1},
{"t":5112,"avg":36.5,"max":38.8,"min":35.1},
{"t":5117,"avg":31.2,"max":34.3,"min":30.2},
{"t":5126,"avg":32.5,"max":35.1,"min":31.4},
{"t":5134,"avg":35.3,"max":37.6,"min":34.0},
{"t":5142,"avg":36.3,"max":38.5,"min":35.0},
{"t":5151,"avg":32.1,"max":34.9,"min":31.0},
{"t":5160,"avg":34.9,"max":37.2,"min":33.6},
{"t":5168,"avg":33.9,"max":36.3,"min":32.7},
{"t":5180,"avg":32.9,"max":35.5,"min":31.8},
{"t":5188,"avg":37.4,"max":39.5,"min":36.0},
{"t":5194,"avg":36.5,"max":38.7,"min":35.1},
{"t":5202,"avg":34.1,"max":36.6,"min":32.9},
{"t":5210,"avg":33.3,"max":35.9,"min":32.1},
{"t":5219,"avg":36.5,"max":38.7,"min":35.1},
{"t":5228,"avg":32.9,"max":35.7,"min":31.8},
{"t":5236,"avg":32.7,"max":35.3,"min":31.6},
{"t":5242,"avg":37.4,"max":39.5,"min":36.0},
{"t":5251,"avg":35.7,"max":38.0,"min":34.4},
{"t":5259,"avg":35.3,"max":37.6,"min":34.0},
{"t":5267,"avg":32.5,"max":35.2,"min":31.4},
{"t":5276,"avg":31.6,"max":34.2,"min":30.5},
{"t":5285,"avg":33.7,"max":36.1,"min":32.5},
{"t":5293,"avg":35.7,"max":38.0,"min":34.4},
{"t":5301,"avg":33.3,"max":35.9,"min":32.1},
{"t":5310,"avg":32.7,"max":35.2,"min":31.6},
{"t":5319,"avg":35.7,"max":38.0,"min":34.4},
{"t":5327,"avg":33.1,"max":35.8,"min":32.0},
{"t":5335,"avg":34.5,"max":36.9,"min":33.3},
{"t":5342,"avg":38.0,"max":40.0,"min":36.4},
{"t":5350,"avg":35.3,"max":37.8,"min":34.0},
{"t":5358,"avg":37.6,"max":39.7,"min":36.1},
{"t":5365,"avg":38.6,"max":40.5,"min":36.9},
{"t":5372,"avg":39.0,"max":40.9,"min":37.3},
{"t":5380,"avg":34.7,"max":37.3,"min":33.5},
{"t":5389,"avg":38.4,"max":40.3,"min":36.8},
{"t":5399,"avg":33.7,"max":36.6,"min":32.5},
{"t":5406,"avg":36.9,"max":39.0,"min":35.5},
{"t":5414,"avg":37.6,"max":39.7,"min":36.1},
{"t":5423,"avg":36.9,"max":39.0,"min":35.5},
{"t":5433,"avg":37.6,"max":39.7,"min":36.1},
{"t":5440,"avg":36.1,"max":38.4,"min":34.8},
{"t":5448,"avg":36.5,"max":38.7,"min":35.1},
{"t":5458,"avg":35.7,"max":38.0,"min":34.4},
{"t":5465,"avg":37.8,"max":39.9,"min":36.2},
{"t":5473,"avg":34.7,"max":37.2,"min":33.5},
{"t":5480,"avg":36.3,"max":38.5,"min":35.0},
{"t":5488,"avg":37.2,"max":39.4,"min":35.8},
{"t":5495,"avg":30.8,"max":34.0,"min":29.8},
{"t":5503,"avg":35.3,"max":37.7,"min":34.0},
{"t":5512,"avg":36.7,"max":38.9,"min":35.3},
{"t":5520,"avg":38.2,"max":40.2,"min":36.6},
{"t":5526,"avg":34.5,"max":37.1,"min":33.3},
{"t":5535,"avg":38.6,"max":40.5,"min":36.9},
{"t":5543,"avg":35.7,"max":38.0,"min":34.4},
{"t":5550,"avg":37.8,"max":39.9,"min":36.2},
{"t":5560,"avg":35.3,"max":37.7,"min":34.0},
{"t":5567,"avg":37.4,"max":39.6,"min":36.0},
{"t":5574,"avg":40.3,"max":42.0,"min":38.3},
{"t":5580,"avg":31.2,"max":34.5,"min":30.2},
{"t":5588,"avg":28.8,"max":31.8,"min":27.8},
{"t":5596,"avg":37.6,"max":39.8,"min":36.1},
{"t":5603,"avg":40.0,"max":41.7,"min":38.1},
{"t":5611,"avg":35.3,"max":37.8,"min":34.0},
{"t":5618,"avg":39.2,"max":40.9,"min":37.4},
{"t":5628,"avg":35.7,"max":38.1,"min":34.4},
{"t":5633,"avg":39.4,"max":41.1,"min":37.6},
{"t":5641,"avg":36.7,"max":38.9,"min":35.3},
{"t":5647,"avg":34.5,"max":37.0,"min":33.3},
{"t":5656,"avg":38.2,"max":40.1,"min":36.6},
{"t":5664,"avg":37.6,"max":39.7,"min":36.1},
{"t":5671,"avg":39.4,"max":41.1,"min":37.6},
{"t":5679,"avg":35.9,"max":38.3,"min":34.6},
{"t":5687,"avg":37.2,"max":39.4,"min":35.8},
{"t":5693,"avg":39.0,"max":40.8,"min":37.3},
{"t":5701,"avg":41.4,"max":43.6,"min":39.3},
{"t":5707,"avg":34.5,"max":37.3,"min":33.3},
{"t":5715,"avg":41.4,"max":42.9,"min":39.3},
{"t":5721,"avg":34.5,"max":37.3,"min":33.3},
{"t":5730,"avg":38.8,"max":40.6,"min":37.1},
{"t":5738,"avg":36.7,"max":38.9,"min":35.3},
{"t":5744,"avg":34.5,"max":37.1,"min":33.3},
{"t":5752,"avg":37.4,"max":39.6,"min":36.0},
{"t":5760,"avg":36.5,"max":38.7,"min":35.1},
{"t":5767,"avg":38.8,"max":40.6,"min":37.1},
{"t":5775,"avg":35.3,"max":37.7,"min":34.0},
{"t":5782,"avg":39.8,"max":41.5,"min":37.9},
{"t":5789,"avg":36.9,"max":39.0,"min":35.5},
{"t":5795,"avg":39.4,"max":41.1,"min":37.6},
{"t":5803,"avg":39.8,"max":41.6,"min":37.9},
{"t":5809,"avg":36.9,"max":39.0,"min":35.5},
{"t":5817,"avg":35.1,"max":37.6,"min":33.9},
{"t":5823,"avg":39.0,"max":40.9,"min":37.3},
{"t":5829,"avg":40.2,"max":41.9,"min":38.2},
{"t":5837,"avg":37.8,"max":39.9,"min":36.2},
{"t":5845,"avg":37.4,"max":39.6,"min":36.0},
{"t":5852,"avg":39.0,"max":40.8,"min":37.3},
{"t":5860,"avg":37.8,"max":39.9,"min":36.2},
{"t":5866,"avg":35.5,"max":38.0,"min":34.2},
{"t":5874,"avg":38.6,"max":40.4,"min":36.9},
{"t":5877,"avg":29.1,"max":36.0,"min":14.0}
  ]},
  "encoding": {
    "x": {"field": "t", "type": "quantitative",
      "scale": {"domain": [-60, 5940], "nice": false, "zero": false},
      "axis": {"title": "Time", "grid": false,
        "values": [0,60,120,180,240,300,360,420,480,540,600,660,720,780,840,900,960,1020,1080,1140,1200,1260,1320,1380,1440,1500,1560,1620,1680,1740,1800,1860,1920,1980,2040,2100,2160,2220,2280,2340,2400,2460,2520,2580,2640,2700,2760,2820,2880,2940,3000,3060,3120,3180,3240,3300,3360,3420,3480,3540,3600,3660,3720,3780,3840,3900,3960,4020,4080,4140,4200,4260,4320,4380,4440,4500,4560,4620,4680,4740,4800,4860,4920,4980,5040,5100,5160,5220,5280,5340,5400,5460,5520,5580,5640,5700,5760,5820,5880,5940],
        "labelExpr": "datum.value % 300 === 0 ? utcFormat(datum.value * 1000, '%H:%M:%S') : ''",
        "labelAngle": -45, "labelOverlap": false, "labelFlush": false,
        "labelFontSize": 13.5, "labelColor": "#333333", "labelFont": "Noto Sans",
        "tickSize": {"condition": {"test": "datum.value % 300 === 0", "value": 8}, "value": 5},
        "tickColor": "#333333", "domainColor": "#333333",
        "titleFontSize": 13, "titleFontWeight": "normal", "titleColor": "#333333", "titlePadding": 15}
    }
  },
  "layer": [
    {"mark": {"type": "area", "interpolate": "linear", "opacity": 1},
     "encoding": {
       "y": {"field": "max", "type": "quantitative",
         "scale": {"domain": [-0.3, 44.1], "nice": false, "zero": false},
         "axis": {"title": "Bitrate (Mbps)", "grid": false,
           "values": [0,1,2,3,4,5,6,7,8,9,10,11,12,13,14,15,16,17,18,19,20,21,22,23,24,25,26,27,28,29,30,31,32,33,34,35,36,37,38,39,40,41,42,43,44],
           "labelExpr": "datum.value % 5 === 0 ? datum.label : ''",
           "labelOverlap": false, "labelFontSize": 13, "labelColor": "#333333", "labelFont": "Noto Sans",
           "tickSize": {"condition": {"test": "datum.value % 5 === 0", "value": 8}, "value": 4},
           "tickColor": "#333333", "domainColor": "#333333",
           "titleFontSize": 12, "titleFontWeight": "normal", "titleColor": "#333333", "titlePadding": 8}},
       "y2": {"field": "min"},
       "color": {"datum": "Max / Min", "type": "nominal",
         "scale": {"domain": ["Max / Min"], "range": ["#e9e9e9"]},
         "legend": {"title": null, "orient": "none", "legendX": 10, "legendY": -50, "direction": "horizontal",
           "symbolType": "M-1,0.6L-1,0.1L1,-0.6L1,0.6Z", "symbolSize": 400, "symbolStrokeWidth": 0, "symbolOpacity": 1,
           "labelFontSize": 14, "labelColor": "#333333", "labelFont": "Noto Sans", "labelOffset": 5}}
     }},
    {"mark": {"type": "line", "strokeWidth": 2.6, "interpolate": "linear"},
     "encoding": {
       "y": {"field": "avg", "type": "quantitative",
         "scale": {"domain": [-0.3, 44.1], "nice": false, "zero": false},
         "axis": {"title": "Bitrate (Mbps)", "grid": false,
           "values": [0,1,2,3,4,5,6,7,8,9,10,11,12,13,14,15,16,17,18,19,20,21,22,23,24,25,26,27,28,29,30,31,32,33,34,35,36,37,38,39,40,41,42,43,44],
           "labelExpr": "datum.value % 5 === 0 ? datum.label : ''",
           "labelOverlap": false, "labelFontSize": 13, "labelColor": "#333333", "labelFont": "Noto Sans",
           "tickSize": {"condition": {"test": "datum.value % 5 === 0", "value": 8}, "value": 4},
           "tickColor": "#333333", "domainColor": "#333333",
           "titleFontSize": 12, "titleFontWeight": "normal", "titleColor": "#333333", "titlePadding": 8}},
       "color": {"datum": "Average", "type": "nominal",
         "scale": {"domain": ["Average"], "range": ["#808080"]},
         "legend": {"title": null, "orient": "none", "legendX": 134, "legendY": -50, "direction": "horizontal",
           "symbolType": "stroke", "symbolSize": 400, "symbolStrokeWidth": 2, "symbolOpacity": 1,
           "labelFontSize": 14, "labelColor": "#333333", "labelFont": "Noto Sans", "labelOffset": 5}}
     }}
  ]
}
